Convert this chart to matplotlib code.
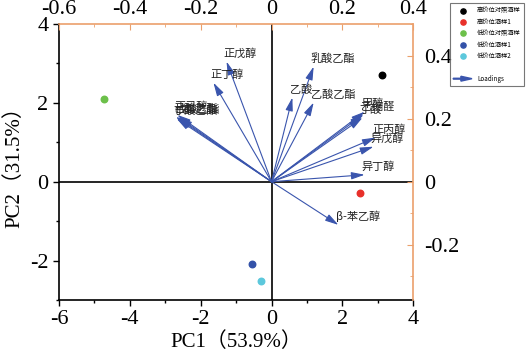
import numpy as np
import matplotlib
matplotlib.use('Agg')
from matplotlib import pyplot as plt
from matplotlib.lines import Line2D
from matplotlib.patches import FancyArrow
from matplotlib.legend_handler import HandlerPatch
from matplotlib.ticker import MultipleLocator

plt.rcParams['font.family'] = ['Liberation Serif', 'Noto Sans CJK SC']
plt.rcParams['axes.unicode_minus'] = False

# sample scores (PC1, PC2)
sample_names = ['高价位对照酒样', '高价位酒样1', '低价位对照酒样', '低价位酒样1', '低价位酒样2']
sample_pc1 = [3.11, 2.51, -4.72, -0.56, -0.31]
sample_pc2 = [2.71, -0.28, 2.10, -2.10, -2.53]
sample_colors = ['#000000', '#e8302a', '#6cc04a', '#3352a8', '#5cc8dc']

# variable loadings
var_names = ['正戊醇', '正丁醇', '正己醇', '己酸乙酯', '丁酸乙酯', '戊酸乙酯',
             '乳酸乙酯', '乙酸', '乙酸乙酯', '甲醇', '乙缩醛', '丁酸',
             '正丙醇', '异戊醇', '异丁醇', 'β-苯乙醇']
load_x = [-0.127, -0.164, -0.266, -0.270, -0.268, -0.262,
          0.119, 0.059, 0.119, 0.263, 0.260, 0.257,
          0.294, 0.288, 0.263, 0.189]
load_y = [0.381, 0.314, 0.212, 0.206, 0.200, 0.204,
          0.365, 0.267, 0.251, 0.222, 0.213, 0.203,
          0.140, 0.111, 0.022, -0.137]

arrow_c = '#3a55ad'
orange = '#eba06c'

fig = plt.figure(figsize=(5.27, 3.64), dpi=100)
pos = [0.112, 0.176, 0.672, 0.758]
ax = fig.add_axes(pos)
ax.set_xlim(-6, 4)
ax.set_ylim(-3, 4)
ax.axhline(0, color='k', lw=1.2, zorder=1)
ax.axvline(0, color='k', lw=1.2, zorder=1)
for n, x, y, c in zip(sample_names, sample_pc1, sample_pc2, sample_colors):
    ax.scatter(x, y, s=22, color=c, zorder=3, label=n)
ax.xaxis.set_major_locator(MultipleLocator(2))
ax.xaxis.set_minor_locator(MultipleLocator(1))
ax.yaxis.set_major_locator(MultipleLocator(2))
ax.yaxis.set_minor_locator(MultipleLocator(1))
ax.tick_params(which='both', direction='out', labelsize=16, width=1, top=False, right=False)
ax.tick_params(which='major', length=4)
ax.tick_params(which='minor', length=2)
ax.spines['top'].set_visible(False)
ax.spines['right'].set_visible(False)
ax.spines['left'].set_linewidth(1.2)
ax.spines['bottom'].set_linewidth(1.2)
ax.set_xlabel('PC1（53.9%）', fontsize=15, labelpad=2)
ax.set_ylabel('PC2（31.5%）', fontsize=15, labelpad=4)

# loadings axes (top / right)
axl = fig.add_axes(pos, facecolor='none')
axl.set_xlim(-0.6, 0.4)
axl.set_ylim(-0.375, 0.5)
axl.xaxis.tick_top()
axl.yaxis.tick_right()
xt = [-0.6, -0.4, -0.2, 0, 0.2, 0.4]
yt = [-0.2, 0, 0.2, 0.4]
axl.set_xticks(xt)
axl.set_xticklabels([f'{v:g}' for v in xt])
axl.set_yticks(yt)
axl.set_yticklabels([f'{v:g}' for v in yt])
axl.xaxis.set_minor_locator(MultipleLocator(0.1))
axl.yaxis.set_minor_locator(MultipleLocator(0.1))
axl.tick_params(which='both', direction='in', color=orange, labelsize=16)
axl.tick_params(which='major', length=4)
axl.tick_params(which='minor', length=2)
axl.tick_params(axis='y', pad=8)
for s in ['left', 'bottom']:
    axl.spines[s].set_visible(False)
for s in ['top', 'right']:
    axl.spines[s].set_color(orange)
    axl.spines[s].set_linewidth(1.2)

for n, x, y in zip(var_names, load_x, load_y):
    axl.annotate('', xy=(x, y), xytext=(0, 0),
                 arrowprops=dict(arrowstyle='-|>,head_length=0.8,head_width=0.22',
                                 color=arrow_c, lw=0.8, shrinkA=0, shrinkB=0))
    axl.annotate(n, xy=(x, y), xytext=(-2, 2), textcoords='offset points',
                 fontsize=8, ha='left', va='bottom', color='#222222',
                 family=['Noto Sans CJK SC', 'DejaVu Sans'])


def make_arrow(legend, orig_handle, xdescent, ydescent, width, height, fontsize):
    return FancyArrow(0, height / 2, width, 0, width=0.6, head_width=3.5,
                      head_length=8, length_includes_head=True, color=arrow_c)


handles, labels = ax.get_legend_handles_labels()
blank = Line2D([], [], lw=0, marker='')
arrow_handle = FancyArrow(0, 0, 1, 0, color=arrow_c)
handles = handles + [blank, arrow_handle]
labels = labels + ['', 'Loadings']
leg = fig.legend(handles, labels, loc='upper right', bbox_to_anchor=(1.0, 1.0),
                 frameon=True, fancybox=False, edgecolor='#555555',
                 handlelength=3, handletextpad=0.8, labelspacing=0.55,
                 borderpad=0.5, scatterpoints=1, markerscale=0.8,
                 handler_map={FancyArrow: HandlerPatch(patch_func=make_arrow)},
                 prop={'family': ['Noto Sans CJK SC', 'DejaVu Sans'], 'size': 4.5})
leg.get_frame().set_linewidth(0.8)

fig.savefig('out.png', dpi=100)
